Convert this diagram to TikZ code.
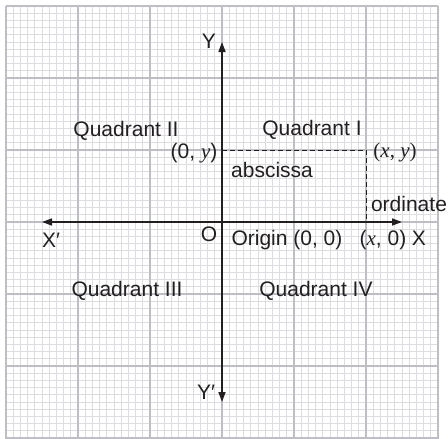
\documentclass[tikz,border=0pt]{standalone}
\usepackage{fontspec}
\setmainfont{Liberation Sans}
\newfontfamily\serifmath{Liberation Serif}
\usepackage{xcolor}
\usepackage{tikz}
\usetikzlibrary{arrows.meta}
\definecolor{gridminor}{RGB}{220,220,225}
\definecolor{gridmajor}{RGB}{190,190,198}
\definecolor{inkdark}{RGB}{35,31,32}
\newcommand{\mv}[1]{{\serifmath\itshape #1}}

\begin{document}
\begin{tikzpicture}[
  x=1pt, y=-1pt,
  every node/.style={text=inkdark, inner sep=0pt},
  minorline/.style={draw=gridminor, line width=1pt},
  majorline/.style={draw=gridmajor, line width=1.4pt},
  axis/.style={-{Triangle[length=10pt, width=7pt]}, draw=inkdark, line width=1.5pt},
  guide/.style={draw=inkdark, line width=0.9pt, dash pattern=on 5pt off 3pt},
  lbl/.style={font=\fontsize{21}{24}\selectfont},
]
\useasboundingbox (0,0) rectangle (448,439);

% Grid paper
\foreach \i in {0,...,60} {
  \draw[minorline] ({6+7.2*\i},6) -- ({6+7.2*\i},440);
  \draw[minorline] (6,{6+7.2*\i}) -- (438,{6+7.2*\i});
}
\foreach \i in {0,...,6} {
  \draw[majorline] ({6+72*\i},6) -- ({6+72*\i},440);
  \draw[majorline] (6,{6+72*\i}) -- (438,{6+72*\i});
}

% Axis ends and points
\coordinate (O) at (222,222);
\coordinate (xleft) at (42,222);
\coordinate (xright) at (402,222);
\coordinate (ytop) at (222,42);
\coordinate (ybot) at (222,402);
\coordinate (P) at (366,150);
\coordinate (Px) at (366,222);
\coordinate (Py) at (222,150);

% Axes
\draw[axis] (O) -- (xright);
\draw[axis] (O) -- (xleft);
\draw[axis] (O) -- (ytop);
\draw[axis] (O) -- (ybot);

% Dashed guides
\draw[guide] (Py) -- (P) -- (Px);

% Axis labels
\node[lbl] (labY)  at (209,41)  {Y};
\node[lbl] (labY2) at (206,392) {Y′};
\node[lbl] (labX2) at (51,240)  {X′};
\node[lbl] (labX)  at (419,238) {X};
\node[lbl] (labO)  at (209,234) {O};

% Quadrants
\node[lbl] (quadI)   at (312,130) {Quadrant I};
\node[lbl] (quadII)  at (126,131) {Quadrant II};
\node[lbl] (quadIII) at (127,291) {Quadrant III};
\node[lbl] (quadIV)  at (316,291) {Quadrant IV};

% Point labels
\node[lbl] (ptxy)  at (395,152) {{\serifmath(\mv{x}, \mv{y})}};
\node[lbl] (pt0y)  at (194,153) {(0, \mv{y})};
\node[lbl] (ptx0)  at (383,240) {(\mv{x}, 0)};
\node[lbl] (orig)  at (287,240) {Origin (0, 0)};
\node[lbl] (absc)  at (272,170) {abscissa};
\node[lbl] (ordn)  at (409,204) {ordinate};

\end{tikzpicture}
\end{document}
